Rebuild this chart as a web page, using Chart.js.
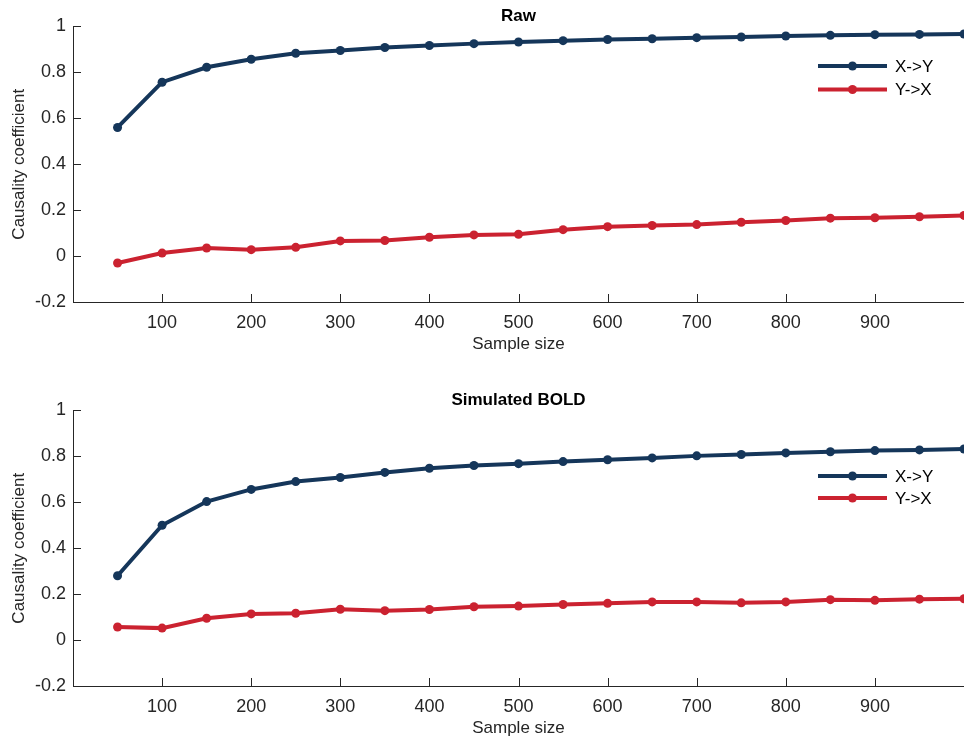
<!DOCTYPE html>
<html>
<head>
<style type="text/css">
  html, body { margin: 0; padding: 0; background: #fff; overflow: hidden; }
  .panel { position: absolute; left: 0; width: 964px; height: 356px; }
</style>
</head>
<body>
<div class="panel" style="top:0px"><canvas id="rawChart"></canvas></div>
<div class="panel" style="top:384px"><canvas id="boldChart"></canvas></div>
<script src="https://cdn.jsdelivr.net/npm/chart.js@4.4.1/dist/chart.umd.min.js"></script>
<script>
// sample sizes (x values)
var sampleSizes = [50, 100, 150, 200, 250, 300, 350, 400, 450, 500, 550, 600, 650, 700, 750, 800, 850, 900, 950, 1000];
var xTickValues = [100, 200, 300, 400, 500, 600, 700, 800, 900];
var yTickValues = [-0.2, 0, 0.2, 0.4, 0.6, 0.8, 1];
var seriesNames = ["X->Y", "Y->X"];

// Raw panel
var rawXY = [0.56, 0.757, 0.822, 0.857, 0.883, 0.895, 0.908, 0.917, 0.925, 0.932, 0.938, 0.943, 0.946, 0.951, 0.954, 0.958, 0.961, 0.964, 0.965, 0.967];
var rawYX = [-0.03, 0.013, 0.035, 0.028, 0.038, 0.066, 0.068, 0.082, 0.092, 0.095, 0.115, 0.128, 0.133, 0.137, 0.147, 0.155, 0.165, 0.167, 0.171, 0.177];

// Simulated BOLD panel
var boldXY = [0.28, 0.5, 0.603, 0.656, 0.69, 0.708, 0.73, 0.748, 0.76, 0.768, 0.777, 0.785, 0.793, 0.802, 0.808, 0.815, 0.82, 0.825, 0.828, 0.832];
var boldYX = [0.057, 0.052, 0.095, 0.114, 0.117, 0.134, 0.128, 0.133, 0.145, 0.148, 0.155, 0.16, 0.166, 0.166, 0.162, 0.166, 0.176, 0.173, 0.178, 0.18];

var colXY = "#15365a";
var colYX = "#cb2230";
var axisCol = "#262626";
var fontFam = "'Liberation Sans', Arial, Helvetica, sans-serif";

function toPoints(xs, ys) {
  var pts = [];
  for (var i = 0; i < xs.length; i++) pts.push({x: xs[i], y: ys[i]});
  return pts;
}

// matlab style ticks pointing into the axes
var inwardTicks = {
  id: 'inwardTicks',
  afterDraw: function(chart) {
    var ctx = chart.ctx, a = chart.chartArea;
    ctx.save();
    ctx.strokeStyle = axisCol;
    ctx.lineWidth = 1;
    ctx.beginPath();
    chart.scales.x.ticks.forEach(function(t) {
      var px = Math.round(chart.scales.x.getPixelForValue(t.value)) + 0.5;
      ctx.moveTo(px, a.bottom); ctx.lineTo(px, a.bottom - 8);
    });
    chart.scales.y.ticks.forEach(function(t) {
      var py = Math.round(chart.scales.y.getPixelForValue(t.value)) + 0.5;
      ctx.moveTo(a.left, py); ctx.lineTo(a.left + 8, py);
    });
    ctx.stroke();
    ctx.restore();
  }
};

// legend box inside the plot, like the matlab one
var innerLegend = {
  id: 'innerLegend',
  afterDatasetsDraw: function(chart, args, opts) {
    var ctx = chart.ctx;
    ctx.save();
    chart.data.datasets.forEach(function(ds, i) {
      var y = opts.y + i * opts.gap;
      ctx.strokeStyle = ds.borderColor;
      ctx.lineWidth = 4;
      ctx.beginPath();
      ctx.moveTo(opts.x, y); ctx.lineTo(opts.x + opts.len, y);
      ctx.stroke();
      ctx.fillStyle = ds.borderColor;
      ctx.beginPath();
      ctx.arc(opts.x + opts.len / 2, y, 4.5, 0, Math.PI * 2);
      ctx.fill();
      ctx.fillStyle = "#000";
      ctx.font = "17px " + fontFam;
      ctx.textBaseline = "middle";
      ctx.fillText(ds.label, opts.x + opts.len + 8, y + 1);
    });
    ctx.restore();
  }
};

function makeChart(id, title, xy, yx, legendY, legendGap) {
  var ctx = document.getElementById(id).getContext('2d');
  return new Chart(ctx, {
    type: 'line',
    data: {
      datasets: [
        {label: seriesNames[0], data: toPoints(sampleSizes, xy), borderColor: colXY, backgroundColor: colXY,
         borderWidth: 4, pointRadius: 4.5, pointBackgroundColor: colXY, pointBorderWidth: 0, tension: 0, fill: false},
        {label: seriesNames[1], data: toPoints(sampleSizes, yx), borderColor: colYX, backgroundColor: colYX,
         borderWidth: 4, pointRadius: 4.5, pointBackgroundColor: colYX, pointBorderWidth: 0, tension: 0, fill: false}
      ]
    },
    options: {
      responsive: true,
      maintainAspectRatio: false,
      animation: false,
      layout: { autoPadding: false, padding: { left: 0, top: 0, bottom: 0, right: -2 } },
      plugins: {
        legend: { display: false },
        tooltip: { enabled: false },
        title: {
          display: true, text: title, color: '#000', fullSize: false,
          font: { family: fontFam, size: 17, weight: 'bold' },
          padding: { top: 6, bottom: 0 }
        },
        innerLegend: { x: 818, y: legendY, gap: legendGap, len: 69 }
      },
      scales: {
        x: {
          type: 'linear', min: 0, max: 1000,
          afterBuildTicks: function(s) { s.ticks = xTickValues.map(function(v) { return {value: v}; }); },
          afterFit: function(s) { s.height = 54; s.paddingLeft = 0; s.paddingRight = 0; },
          grid: { display: false, drawTicks: false },
          border: { display: true, color: axisCol, width: 1 },
          ticks: { color: axisCol, padding: 10, maxRotation: 0, font: { family: fontFam, size: 18 } },
          title: { display: true, text: 'Sample size', color: axisCol, padding: { top: 0, bottom: 1 },
                   font: { family: fontFam, size: 17 } }
        },
        y: {
          type: 'linear', min: -0.2, max: 1,
          afterBuildTicks: function(s) { s.ticks = yTickValues.map(function(v) { return {value: v}; }); },
          afterFit: function(s) { s.width = 73; },
          grid: { display: false, drawTicks: false },
          border: { display: true, color: axisCol, width: 1 },
          ticks: { color: axisCol, padding: 7, font: { family: fontFam, size: 18 },
                   callback: function(v) { return Math.abs(v) < 1e-9 ? '0' : String(+v.toFixed(1)); } },
          title: { display: true, text: 'Causality coefficient', color: axisCol, padding: { top: 9, bottom: 0 },
                   font: { family: fontFam, size: 17 } }
        }
      }
    },
    plugins: [inwardTicks, innerLegend]
  });
}

makeChart('rawChart', 'Raw', rawXY, rawYX, 66, 23.5);
makeChart('boldChart', 'Simulated BOLD', boldXY, boldYX, 92, 22);
</script>
</body>
</html>
